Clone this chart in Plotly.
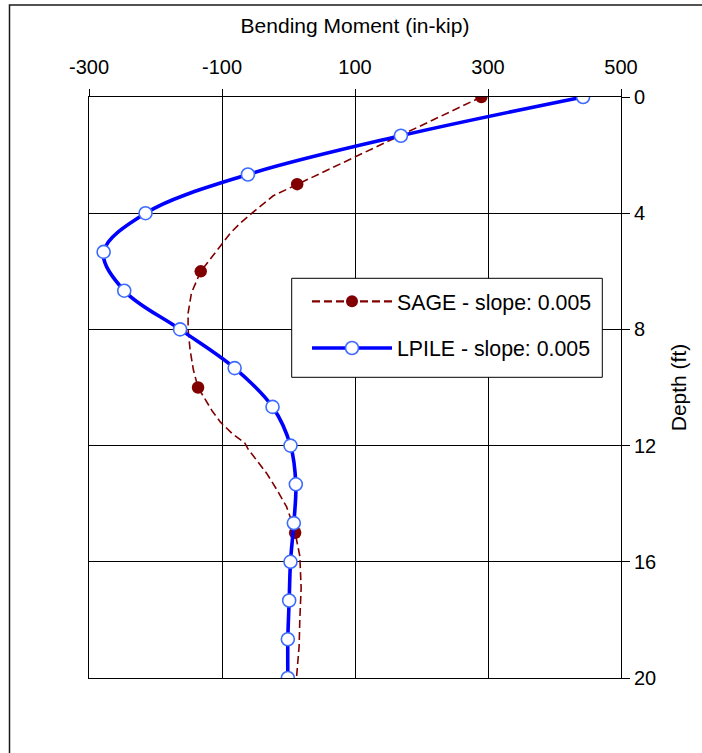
import plotly.graph_objects as go

# LPILE bending moment profile (in-kip) at evenly spaced depths (ft)
lpile_depth = [0, 1.333, 2.667, 4, 5.333, 6.667, 8, 9.333, 10.667, 12,
               13.333, 14.667, 16, 17.333, 18.667, 20]
lpile_moment = [443, 169, -61, -215, -278, -247, -163, -81, -24, 3,
                11, 8, 3, 1, -1, -1]

# SAGE bending moment profile (full curve)
sage_depth = [0, 3, 3.4, 4.0, 4.35, 4.7, 5.1, 5.65, 6.0, 6.75, 7.45, 8.0,
              8.7, 9.4, 10.0, 10.3, 10.8, 11.2, 11.6, 11.9, 12.15, 12.5,
              12.95, 13.5, 14.1, 14.55, 15.0, 15.8, 16.9, 18.0, 18.9, 20.0]
sage_moment = [290, 13, -23, -55, -73, -88, -101, -120, -132, -146, -151, -151,
               -148, -143, -136, -128, -115, -102, -84, -66, -60, -48,
               -33, -18, -3, 4, 10, 17, 19, 17, 16, 12]

# SAGE depths that carry a marker
sage_mark_depth = [0, 3, 6, 10, 15]
sage_mark_moment = [290, 13, -132, -136, 10]

x_ticks = [-300, -100, 100, 300, 500]
x_tick_text = ["-300", "-100", "100", "300", "500"]
y_ticks = [0, 4, 8, 12, 16, 20]

FONT = "Liberation Sans, Arial, sans-serif"
SAGE_COLOR = "#800000"
LPILE_COLOR = "#0000FF"
LPILE_EDGE = "#3D6BFF"
SAGE_DASH = "8px,4px"

# plot area in pixels: left 89, right 621, top 97, bottom 678
L, R, T, B = 89, 621, 97, 678


def px_x(p):
    return (p - L) / (R - L)


def px_y(p):
    return (B - p) / (B - T)


fig = go.Figure()

# SAGE curve (dashed) and its markers
fig.add_trace(go.Scatter(
    x=sage_moment, y=sage_depth, mode="lines",
    line=dict(color=SAGE_COLOR, width=1.6, dash=SAGE_DASH),
    showlegend=False, hoverinfo="skip"))
fig.add_trace(go.Scatter(
    x=sage_mark_moment, y=sage_mark_depth, mode="markers",
    marker=dict(color=SAGE_COLOR, size=12.5, symbol="circle",
                line=dict(width=0)),
    showlegend=False))
# legend entry for SAGE
fig.add_trace(go.Scatter(
    x=[None], y=[None], mode="lines+markers",
    name="SAGE - slope: 0.005", legendgroup="sage",
    line=dict(color=SAGE_COLOR, width=2.2, dash=SAGE_DASH),
    marker=dict(color=SAGE_COLOR, size=12, line=dict(width=0))))

# LPILE curve
fig.add_trace(go.Scatter(
    x=lpile_moment, y=lpile_depth, mode="lines+markers",
    name="LPILE - slope: 0.005", legendgroup="lpile",
    line=dict(color=LPILE_COLOR, width=3.6, shape="spline", smoothing=1),
    marker=dict(color="white", size=13, symbol="circle",
                line=dict(color=LPILE_EDGE, width=1.6))))

fig.update_layout(
    width=702, height=753,
    margin=dict(l=L, r=702 - R, t=T, b=753 - B),
    paper_bgcolor="white", plot_bgcolor="white",
    font=dict(family=FONT, size=20, color="black"),
    legend=dict(
        x=px_x(307), y=px_y(281), xanchor="left", yanchor="top",
        bgcolor="rgba(0,0,0,0)", borderwidth=0,
        font=dict(family=FONT, size=21.3, color="black"),
        traceorder="grouped", tracegroupgap=16,
        itemwidth=80,
    ),
    xaxis=dict(
        side="top", range=[-300, 500], tickvals=x_ticks, ticktext=x_tick_text,
        ticks="outside", ticklen=7, tickcolor="black", tickwidth=1,
        ticklabelstandoff=7,
        showline=True, linecolor="black", linewidth=1, mirror=True,
        showgrid=True, gridcolor="black", gridwidth=1, zeroline=False,
        tickfont=dict(size=20),
        title=dict(text="Bending Moment (in-kip)", standoff=16,
                   font=dict(size=21)),
    ),
    yaxis=dict(
        side="right", range=[20, 0], tickvals=y_ticks,
        ticks="outside", ticklen=8, tickcolor="black", tickwidth=1,
        showline=True, linecolor="black", linewidth=1, mirror=True,
        showgrid=True, gridcolor="black", gridwidth=1, zeroline=False,
        tickfont=dict(size=20),
        title=dict(text="Depth (ft)", standoff=16, font=dict(size=21)),
    ),
    shapes=[
        # outer chart frame
        dict(type="rect", xref="paper", yref="paper",
             x0=px_x(9.5), x1=1.3, y0=-0.3, y1=px_y(5),
             line=dict(color="#1a1a1a", width=1.5), layer="below"),
        # legend box
        dict(type="rect", xref="paper", yref="paper",
             x0=px_x(291.7), x1=px_x(602.3), y0=px_y(377.3), y1=px_y(278.3),
             fillcolor="white", line=dict(color="black", width=1),
             layer="above"),
    ],
)

fig.write_html("out.html")
